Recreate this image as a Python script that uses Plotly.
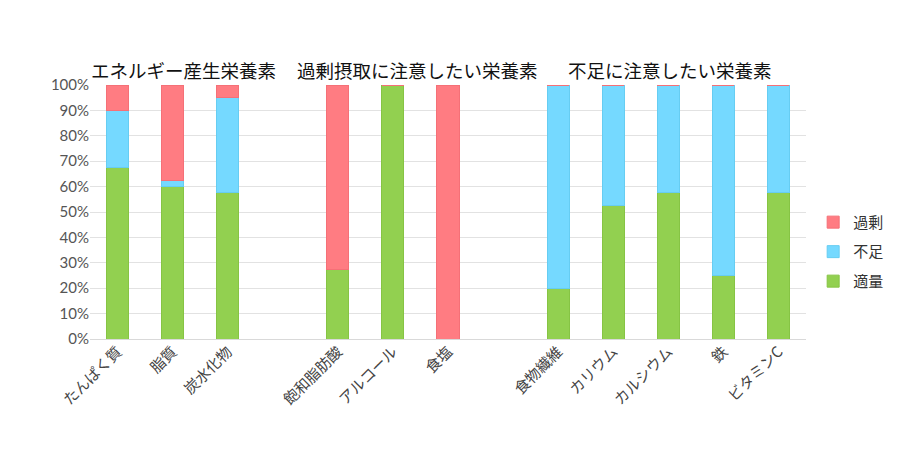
import plotly.graph_objects as go

categories = ["たんぱく質", "脂質", "炭水化物", " ", "飽和脂肪酸", "アルコール", "食塩", "  ",
              "食物繊維", "カリウム", "カルシウム", "鉄", "ビタミンC"]
adequate = [67.5, 60, 57.5, None, 27.5, 100, 0, None, 20, 52.5, 57.5, 25, 57.5]
shortage = [22.5, 2.5, 37.5, None, 0, 0, 0, None, 80, 47.5, 42.5, 75, 42.5]
excess = [10, 37.5, 5, None, 72.5, 0, 100, None, 0, 0, 0, 0, 0]
group_titles = ["エネルギー産生栄養素", "過剰摂取に注意したい栄養素", "不足に注意したい栄養素"]
group_title_x = [0.13, 0.458, 0.81]
y_ticks = [0, 10, 20, 30, 40, 50, 60, 70, 80, 90, 100]
y_tick_labels = ["0%", "10%", "20%", "30%", "40%", "50%", "60%", "70%", "80%", "90%", "100%"]

series = [
    ("適量", adequate, "#92d050", "#86c444", 3),
    ("不足", shortage, "#75d9ff", "#66cdf2", 2),
    ("過剰", excess, "#ff7c82", "#f57077", 1),
]

fig = go.Figure()
for name, vals, col, lc, rank in series:
    fig.add_trace(go.Bar(
        x=categories, y=vals, name=name, width=0.4, legendgroup=name, legendrank=rank,
        marker=dict(color=col, line=dict(color=lc, width=1)),
        hoverinfo="x+y+name",
    ))

for t, gx in zip(group_titles, group_title_x):
    fig.add_annotation(text=t, x=gx, xref="paper", xanchor="center", y=1, yref="paper",
                       yanchor="bottom", yshift=0, showarrow=False,
                       font=dict(size=18.5, color="#111",
                                 family="Noto Sans CJK JP, sans-serif"))

fig.update_layout(
    barmode="stack",
    width=920, height=458,
    margin=dict(l=90, r=114, t=85, b=119),
    paper_bgcolor="white", plot_bgcolor="white",
    font=dict(family="Lato, Noto Sans CJK JP, sans-serif", color="#444"),
    showlegend=True,
    legend=dict(traceorder="grouped", x=1.01, xanchor="left", y=0.343, yanchor="middle",
                font=dict(size=15, color="#333", family="Noto Sans CJK JP, sans-serif"),
                itemwidth=30, tracegroupgap=7),
    bargap=0.6,
)
fig.update_xaxes(type="category", tickangle=-45, showgrid=False, ticks="",
                 tickfont=dict(size=15, color="#444", family="Noto Sans CJK JP, sans-serif"),
                 showline=False)
fig.update_yaxes(range=[0, 100], tickmode="array", tickvals=y_ticks, ticktext=y_tick_labels,
                 showgrid=True, gridcolor="#e2e2e2", gridwidth=1,
                 zeroline=True, zerolinecolor="#d9d9d9", zerolinewidth=1,
                 tickfont=dict(size=15, color="#555", family="Lato, sans-serif"),
                 ticks="", ticklen=0)

fig.write_html("out.html")
